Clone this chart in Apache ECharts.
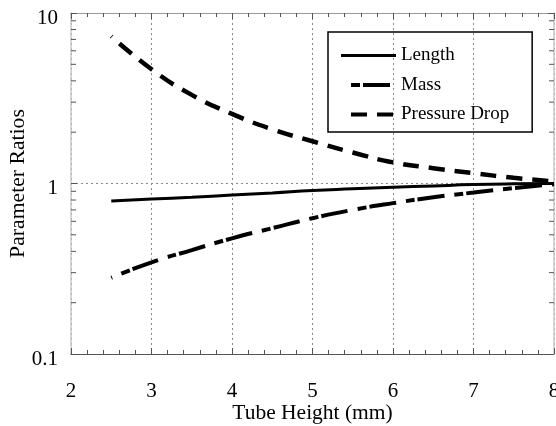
<!DOCTYPE html>
<html>
<head>
<meta charset="utf-8">
<script src="https://cdn.jsdelivr.net/npm/echarts@6/dist/echarts.min.js"></script>
<style>html,body{margin:0;padding:0;background:#fff}#c{width:556px;height:426px}</style>
</head>
<body>
<div id="c"></div>
<script>
const heights = [2.5, 3, 3.5, 4, 4.5, 5, 5.5, 6, 6.5, 7, 7.5, 8];
const lengthRatio = [0.79, 0.81, 0.83, 0.855, 0.88, 0.91, 0.93, 0.95, 0.968, 0.985, 0.995, 1.0];
const massRatio = [0.28, 0.345, 0.407, 0.477, 0.547, 0.626, 0.70, 0.767, 0.83, 0.885, 0.94, 0.99];
const pressureRatio = [7.3, 4.68, 3.31, 2.56, 2.08, 1.77, 1.52, 1.33, 1.23, 1.15, 1.08, 1.03];
const yMinorTicks = [0.2, 0.3, 0.4, 0.5, 0.6, 0.7, 0.8, 0.9, 2, 3, 4, 5, 6, 7, 8, 9];
const xTickLabels = ['2', '3', '4', '5', '6', '7', '8'];
const yTickLabels = ['0.1', '1', '10'];

const FONT = 'Liberation Serif';
const pair = (xs, ys) => xs.map((x, i) => [x, ys[i]]);

const chart = echarts.init(document.getElementById('c'), null, {renderer: 'canvas'});
chart.setOption({
  animation: false,
  backgroundColor: '#fff',
  grid: {left: 71, right: 2, top: 13, bottom: 72, containLabel: false, outerBoundsMode: 'none'},
  legend: {
    orient: 'vertical',
    left: 328, top: 32,
    padding: [14, 23, 8, 11],
    itemWidth: 55, itemHeight: 20, itemGap: 10.5,
    borderColor: '#000', borderWidth: 1.5,
    itemStyle: {opacity: 0},
    textStyle: {fontFamily: FONT, fontSize: 19, color: '#000'},
    data: [
      {name: 'Length', lineStyle: {width: 3, type: 'solid'}},
      {name: 'Mass', lineStyle: {width: 4, type: [27, 10, 9, 3], dashOffset: 27}},
      {name: 'Pressure Drop', lineStyle: {width: 4, type: [16, 10], dashOffset: 16}}
    ]
  },
  xAxis: [{
    type: 'value', min: 2, max: 8, interval: 1,
    name: 'Tube Height (mm)', nameLocation: 'middle', nameGap: 48, nameMoveOverlap: false,
    nameTextStyle: {fontFamily: FONT, fontSize: 21.5, color: '#000'},
    axisLine: {show: true, lineStyle: {color: '#555', width: 1}},
    axisTick: {inside: true, length: 6, lineStyle: {color: '#555'}},
    minorTick: {show: true, splitNumber: 5, length: 4, lineStyle: {color: '#555'}},
    axisLabel: {margin: 27, fontFamily: FONT, fontSize: 21, color: '#000',
      formatter: v => xTickLabels[Math.round(v) - 2]},
    splitLine: {show: true, lineStyle: {type: [2, 3], color: '#888', width: 1}}
  }, {
    type: 'value', min: 2, max: 8, interval: 1, position: 'top',
    axisLine: {show: true, lineStyle: {color: '#999', width: 1}},
    axisTick: {inside: true, length: 6, lineStyle: {color: '#555'}},
    minorTick: {show: true, splitNumber: 5, length: 4, lineStyle: {color: '#555'}},
    axisLabel: {show: false}, splitLine: {show: false}
  }],
  yAxis: [{
    type: 'log', logBase: 10, min: 0.1, max: 10,
    name: 'Parameter Ratios', nameLocation: 'middle', nameGap: 42, nameMoveOverlap: false,
    nameTextStyle: {fontFamily: FONT, fontSize: 21.7, color: '#000'},
    axisLine: {show: true, lineStyle: {color: '#c8c8c8', width: 1.5}},
    axisTick: {inside: true, length: 6, lineStyle: {color: '#555'}},
    axisLabel: {margin: 13, fontFamily: FONT, fontSize: 21, color: '#000',
      verticalAlign: 'top', lineHeight: 10,
      formatter: v => yTickLabels[Math.round(Math.log10(v)) + 1]},
    splitLine: {show: true, lineStyle: {type: [2, 3], color: '#888', width: 1}}
  }, {
    type: 'log', logBase: 10, min: 0.1, max: 10, position: 'right',
    axisLine: {show: true, lineStyle: {color: '#c8c8c8', width: 1.5}},
    axisTick: {inside: true, length: 6, lineStyle: {color: '#555'}},
    axisLabel: {show: false}, splitLine: {show: false}
  }],
  series: [
    {
      name: 'Length', type: 'line', smooth: true, symbol: 'none',
      lineStyle: {color: '#000', width: 3, type: 'solid'},
      itemStyle: {color: '#000'},
      data: pair(heights, lengthRatio)
    },
    {
      name: 'Mass', type: 'line', smooth: true, symbol: 'none',
      lineStyle: {color: '#000', width: 4, type: [27, 10, 9, 3], dashOffset: 26},
      itemStyle: {color: '#000'},
      data: pair(heights, massRatio)
    },
    {
      name: 'Pressure Drop', type: 'line', smooth: true, symbol: 'none',
      lineStyle: {color: '#000', width: 4.5, type: [16, 10], dashOffset: 15},
      itemStyle: {color: '#000'},
      data: pair(heights, pressureRatio)
    },
    {
      name: 'minorY', type: 'custom', silent: true, clip: false,
      data: yMinorTicks,
      encode: {y: 0},
      renderItem: function (params, api) {
        const v = api.value(0);
        const l = api.coord([2, v]);
        const r = api.coord([8, v]);
        return {
          type: 'group',
          children: [
            {type: 'line', shape: {x1: l[0], y1: l[1], x2: l[0] + 5, y2: l[1]}, style: {stroke: '#555', lineWidth: 1}},
            {type: 'line', shape: {x1: r[0] - 5, y1: r[1], x2: r[0], y2: r[1]}, style: {stroke: '#555', lineWidth: 1}}
          ]
        };
      }
    }
  ]
});
</script>
</body>
</html>
